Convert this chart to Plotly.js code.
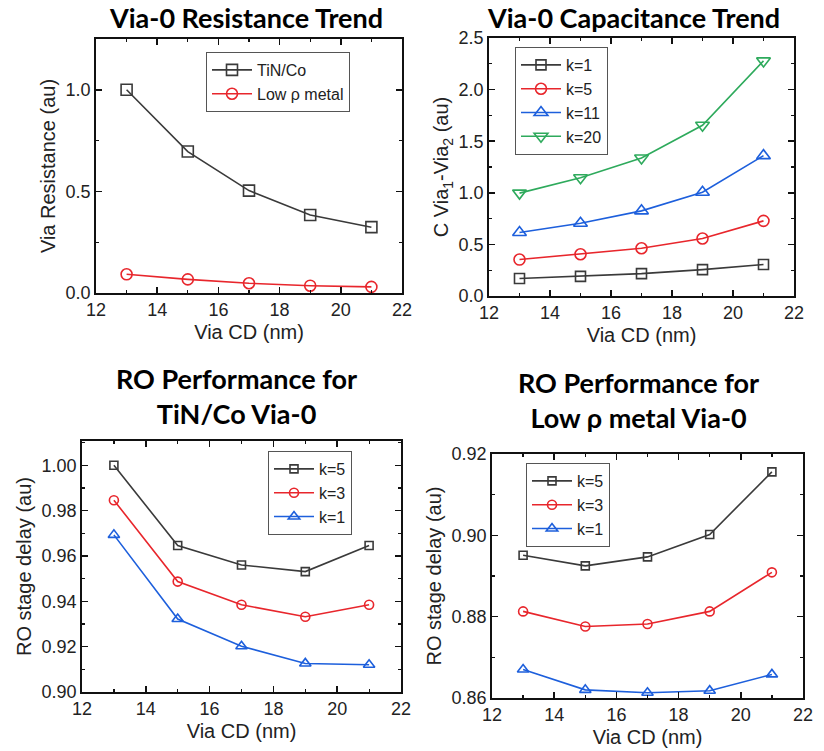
<!DOCTYPE html>
<html>
<head>
<meta charset="utf-8">
<script src="https://cdn.plot.ly/plotly-3.0.1.min.js"></script>
<style>html,body{margin:0;padding:0;background:#fff;}#chart{width:824px;height:751px;}</style>
</head>
<body>
<div id="chart"></div>
<script>
// ---- data ----
const viaCD = [13, 15, 17, 19, 21];

// Panel 1: Via-0 resistance
const resTiNCo = [1.00, 0.696, 0.504, 0.384, 0.324];
const resLowRho = [0.092, 0.067, 0.048, 0.036, 0.030];

// Panel 2: Via-0 capacitance
const capK1 = [0.169, 0.19, 0.217, 0.256, 0.305];
const capK5 = [0.353, 0.405, 0.463, 0.557, 0.728];
const capK11 = [0.615, 0.705, 0.825, 1.005, 1.36];
const capK20 = [0.997, 1.146, 1.337, 1.654, 2.278];

// Panel 3: RO performance TiN/Co
const roTiNK5 = [1.000, 0.9646, 0.956, 0.9531, 0.9646];
const roTiNK3 = [0.9846, 0.9487, 0.9385, 0.9332, 0.9385];
const roTiNK1 = [0.9693, 0.9322, 0.9202, 0.9126, 0.9120];

// Panel 4: RO performance Low rho metal
const roLowK5 = [0.8951, 0.8925, 0.8947, 0.9002, 0.9156];
const roLowK3 = [0.8813, 0.8776, 0.8782, 0.8813, 0.8909];
const roLowK1 = [0.8670, 0.8620, 0.8613, 0.8618, 0.8658];

const titles = ["Via-0 Resistance Trend", "Via-0 Capacitance Trend",
  "RO Performance for<br>TiN/Co Via-0", "RO Performance for<br>Low ρ metal Via-0"];

// ---- styling ----
const BLACK = '#3a3a3a', RED = '#e8262c', BLUE = '#1d5fdc', GREEN = '#2eaa5c';
const W = 824, H = 751;

function tr(y, name, color, symbol, xa, ya, leg, msize) {
  return {
    x: viaCD, y: y, name: name, type: 'scatter', mode: 'lines+markers',
    xaxis: xa, yaxis: ya, legend: leg,
    line: {color: color, width: 1.6},
    marker: {symbol: symbol, size: msize, color: color, line: {color: color, width: 1.6}}
  };
}

const data = [
  tr(resTiNCo, 'TiN/Co', BLACK, 'square-open', 'x', 'y', 'legend', 11),
  tr(resLowRho, 'Low ρ metal', RED, 'circle-open', 'x', 'y', 'legend', 11),
  tr(capK1, 'k=1', BLACK, 'square-open', 'x2', 'y2', 'legend2', 10),
  tr(capK5, 'k=5', RED, 'circle-open', 'x2', 'y2', 'legend2', 11),
  tr(capK11, 'k=11', BLUE, 'triangle-up-open', 'x2', 'y2', 'legend2', 12),
  tr(capK20, 'k=20', GREEN, 'triangle-down-open', 'x2', 'y2', 'legend2', 12),
  tr(roTiNK5, 'k=5', BLACK, 'square-open', 'x3', 'y3', 'legend3', 8),
  tr(roTiNK3, 'k=3', RED, 'circle-open', 'x3', 'y3', 'legend3', 9),
  tr(roTiNK1, 'k=1', BLUE, 'triangle-up-open', 'x3', 'y3', 'legend3', 10),
  tr(roLowK5, 'k=5', BLACK, 'square-open', 'x4', 'y4', 'legend4', 8),
  tr(roLowK3, 'k=3', RED, 'circle-open', 'x4', 'y4', 'legend4', 9),
  tr(roLowK1, 'k=1', BLUE, 'triangle-up-open', 'x4', 'y4', 'legend4', 10)
];

const tickFont = {family: 'Liberation Sans, Arial, sans-serif', size: 18, color: '#222'};
const axTitleFont = {family: 'Liberation Sans, Arial, sans-serif', size: 20, color: '#222'};

function xax(l, r, anchor) {
  return {
    domain: [l / W, r / W], anchor: anchor, range: [12, 22], dtick: 2, tick0: 12,
    ticks: 'inside', ticklen: 6, tickwidth: 1.5, tickcolor: '#111',
    minor: {ticks: 'inside', ticklen: 3, dtick: 1, tick0: 12, tickcolor: '#111', tickwidth: 1.2},
    showline: true, linecolor: '#111', linewidth: 1.8, mirror: 'ticks',
    showgrid: false, zeroline: false, tickfont: tickFont, fixedrange: true,
    title: {text: 'Via CD (nm)', font: axTitleFont, standoff: 5}
  };
}
function yax(b, t, anchor, range, dtick, minorDtick, fmt, title) {
  return {
    domain: [1 - b / H, 1 - t / H], anchor: anchor, range: range, dtick: dtick, tick0: range[0],
    ticks: 'inside', ticklen: 6, tickwidth: 1.5, tickcolor: '#111',
    minor: {ticks: 'inside', ticklen: 3, dtick: minorDtick, tick0: range[0], tickcolor: '#111', tickwidth: 1.2},
    showline: true, linecolor: '#111', linewidth: 1.8, mirror: 'ticks',
    showgrid: false, zeroline: false, tickfont: tickFont, tickformat: fmt, fixedrange: true,
    title: {text: title, font: axTitleFont, standoff: 4}
  };
}

const legBase = {
  bgcolor: 'rgba(255,255,255,1)', bordercolor: '#555', borderwidth: 1,
  font: {family: 'Liberation Sans, Arial, sans-serif', size: 16, color: '#222'},
  xanchor: 'left', yanchor: 'top', tracegroupgap: 0, itemwidth: 40
};
function leg(x, y) { return Object.assign({}, legBase, {x: x / W, y: 1 - y / H}); }

const titleFont = {family: 'Lato, Carlito, sans-serif', size: 27, color: '#000', weight: 'bold'};
function ann(text, x, y) {
  return {text: '<b>' + text + '</b>', x: x / W, y: 1 - y / H, xref: 'paper', yref: 'paper',
    xanchor: 'center', yanchor: 'middle', showarrow: false, font: titleFont};
}

const layout = {
  width: W, height: H, margin: {l: 0, r: 0, t: 0, b: 0},
  paper_bgcolor: '#fff', plot_bgcolor: '#fff', showlegend: true,
  xaxis: xax(96, 402, 'y'),
  yaxis: yax(293, 39, 'x', [0, 1.25], 0.5, 0.25, '.1f', 'Via Resistance (au)'),
  xaxis2: xax(489, 794, 'y2'),
  yaxis2: yax(296, 38, 'x2', [0, 2.5], 0.5, 0.25, '.1f', 'C Via<sub>1</sub>-Via<sub>2</sub> (au)'),
  xaxis3: xax(82, 401, 'y3'),
  yaxis3: yax(692, 441, 'x3', [0.90, 1.0107], 0.02, 0.01, '.2f', 'RO stage delay (au)'),
  xaxis4: xax(492, 803, 'y4'),
  yaxis4: yax(698, 454, 'x4', [0.86, 0.92], 0.02, 0.01, '.2f', 'RO stage delay (au)'),
  legend: leg(206, 52),
  legend2: leg(515, 47),
  legend3: leg(268, 451),
  legend4: leg(526, 463),
  annotations: [
    ann(titles[0], 246, 17),
    ann(titles[1], 633, 17),
    ann(titles[2], 236, 396),
    ann(titles[3], 638, 400)
  ]
};

Plotly.newPlot('chart', data, layout, {displayModeBar: false, staticPlot: true});
</script>
</body>
</html>
